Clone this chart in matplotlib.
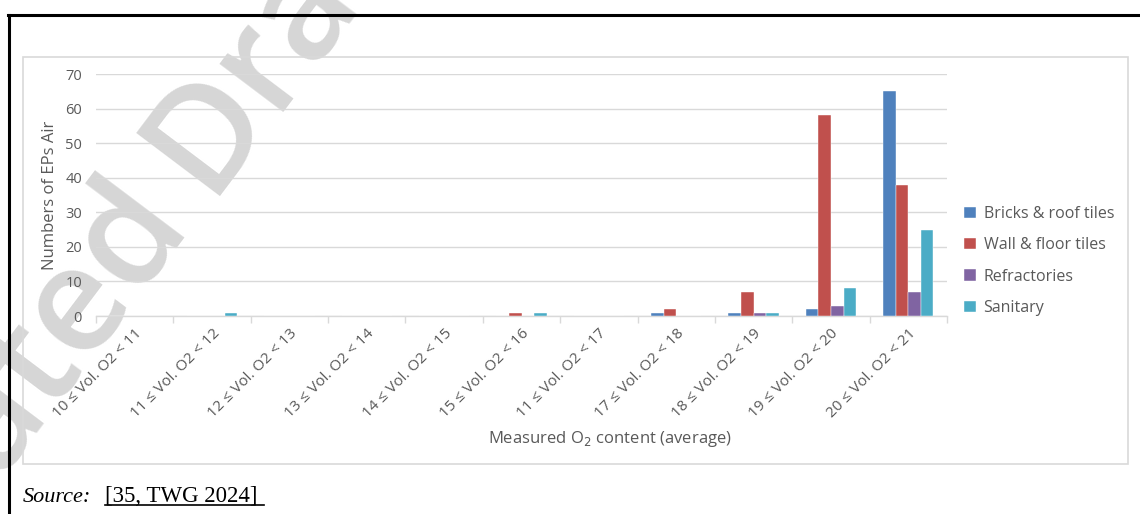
import matplotlib.pyplot as plt
from matplotlib.patches import Rectangle
from matplotlib.lines import Line2D
import numpy as np

categories = ['10 ≤ Vol. O2 < 11', '11 ≤ Vol. O2 < 12', '12 ≤ Vol. O2 < 13',
              '13 ≤ Vol. O2 < 14', '14 ≤ Vol. O2 < 15', '15 ≤ Vol. O2 < 16',
              '11 ≤ Vol. O2 < 17', '17 ≤ Vol. O2 < 18', '18 ≤ Vol. O2 < 19',
              '19 ≤ Vol. O2 < 20', '20 ≤ Vol. O2 < 21']
bricks = [0, 0, 0, 0, 0, 0, 0, 1, 1, 2, 65]
wall_floor = [0, 0, 0, 0, 0, 1, 0, 2, 7, 58, 38]
refractories = [0, 0, 0, 0, 0, 0, 0, 0, 1, 3, 7]
sanitary = [0, 1, 0, 0, 0, 1, 0, 0, 1, 8, 25]

series = [('Bricks & roof tiles', bricks, '#4F81BD'),
          ('Wall & floor tiles', wall_floor, '#C0504D'),
          ('Refractories', refractories, '#8064A2'),
          ('Sanitary', sanitary, '#4BACC6')]

plt.rcParams['font.family'] = ['Open Sans', 'DejaVu Sans']
txt = '#595959'
grid = '#d9d9d9'

W, H = 1140, 514
fig = plt.figure(figsize=(W / 100, H / 100), dpi=100)


def px(x, y):
    # pixel position (from top-left) to figure fraction
    return x / W, 1 - y / H


# diagonal watermark behind everything
wm = dict(fontsize=106, color='#d6d6d6', rotation=53, rotation_mode='anchor',
          va='baseline', zorder=-5, family='Open Sans', fontweight='semibold')
fig.text(*px(190, 222), 'ated', ha='right', **wm)
fig.text(*px(206, 196), 'Draft', ha='left', **wm)

# light chart border and black page frame
fig.add_artist(Rectangle(px(23, 464), (1128 - 23) / W, (464 - 57) / H,
                         transform=fig.transFigure, fill=False, ec=grid, lw=1.2))
fig.add_artist(Line2D([9 / W, 9 / W], [0, 1 - 15 / H], transform=fig.transFigure,
                      color='black', lw=2.2))
fig.add_artist(Line2D([8 / W, 1], [1 - 15 / H, 1 - 15 / H], transform=fig.transFigure,
                      color='black', lw=2.2))

ax = fig.add_axes([96 / W, 1 - 316 / H, (947 - 96) / W, (316 - 74) / H])
ax.set_facecolor('none')

x = np.arange(len(categories))
bw = 0.1625
for i, (name, vals, col) in enumerate(series):
    ax.bar(x + (i - 1.5) * bw, vals, bw, color=col, label=name,
           edgecolor='white', linewidth=0.3, zorder=3)

ax.set_xlim(-0.5, len(categories) - 0.5)
ax.set_ylim(0, 70)
ax.set_yticks(range(0, 71, 10))
ax.yaxis.grid(True, color=grid, lw=1)
ax.set_axisbelow(True)
for s in ['top', 'right', 'left']:
    ax.spines[s].set_visible(False)
ax.spines['bottom'].set_color(grid)
ax.spines['bottom'].set_linewidth(1)

ax.tick_params(axis='y', length=0, pad=10, labelsize=10.5, labelcolor=txt)
ax.set_xticks(np.arange(-0.5, len(categories), 1))
ax.set_xticklabels([])
ax.tick_params(axis='x', which='major', length=5, color=grid, width=1)
ax.set_xticks(x, minor=True)
ax.set_xticklabels(categories, minor=True, rotation=45, ha='right', va='top',
                   rotation_mode='anchor', fontsize=11, color=txt)
ax.tick_params(axis='x', which='minor', length=0, pad=7)

fig.text(*px(50, 195), 'Numbers of EPs Air', rotation=90, ha='center',
         va='center', fontsize=12, color=txt)
fig.text(*px(610, 439), 'Measured O$_2$ content (average)', ha='center',
         va='center', fontsize=12, color=txt)

ax.legend(loc='center left', bbox_to_anchor=px(950, 261),
          bbox_transform=fig.transFigure, frameon=False, fontsize=11.5,
          handlelength=0.7, handleheight=0.7, handletextpad=0.5,
          labelspacing=0.95, labelcolor=txt)

# source line under the chart
fig.text(*px(23, 502), 'Source:', fontsize=16, style='italic',
         family='Liberation Serif', va='baseline')
fig.text(*px(105, 502), '[35, TWG 2024]', fontsize=16.5,
         family='Liberation Serif', va='baseline')
fig.add_artist(Line2D([105 / W, 264 / W], [1 - 505 / H, 1 - 505 / H],
                      transform=fig.transFigure, color='black', lw=1.2))

fig.savefig('out.png', dpi=100)
